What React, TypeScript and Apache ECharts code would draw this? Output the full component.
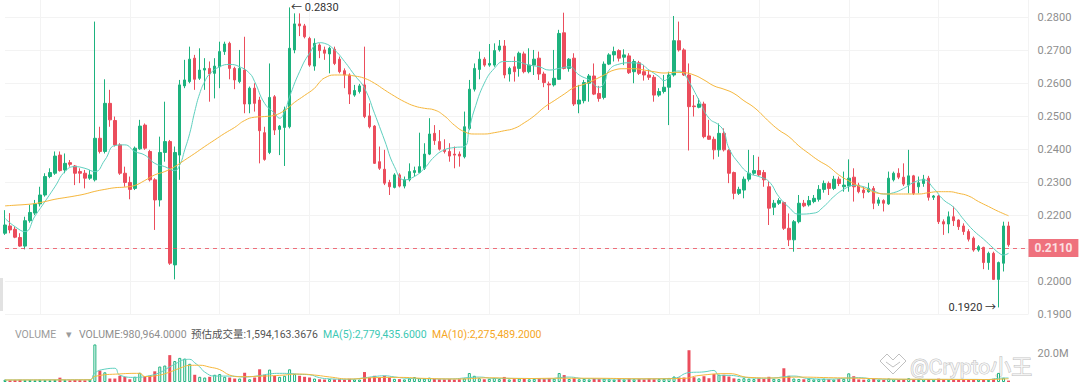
import React, { useEffect, useRef } from "react";
import * as echarts from "echarts";

const UP = "#1db27e";
const DOWN = "#eb4d5c";
const TEAL = "#5fd0bf";
const ORANGE = "#f6b73c";
const FONT = 'Roboto, "Noto Sans CJK SC", sans-serif';

const opens = [
  0.2145, 0.2167, 0.2157, 0.2132, 0.2106, 0.2183, 0.2206, 0.2234, 0.2261, 0.2317,
  0.2327, 0.2382, 0.2337, 0.2359, 0.2349, 0.2332, 0.2327, 0.2312, 0.2307, 0.2433,
  0.2393, 0.2539, 0.2487, 0.2413, 0.2327, 0.2299, 0.2281, 0.2401, 0.2473, 0.2393,
  0.2307, 0.2246, 0.2390, 0.2423, 0.2049, 0.2382, 0.2592, 0.2605, 0.2676, 0.2615,
  0.2640, 0.2645, 0.2630, 0.2650, 0.2696, 0.2721, 0.2645, 0.2605, 0.2640, 0.2537,
  0.2585, 0.2549, 0.2450, 0.2390, 0.2559, 0.2460, 0.2466, 0.2468, 0.2701, 0.2780,
  0.2774, 0.2736, 0.2652, 0.2716, 0.2701, 0.2689, 0.2703, 0.2673, 0.2638, 0.2625,
  0.2564, 0.2575, 0.2595, 0.2501, 0.2470, 0.2362, 0.2339, 0.2299, 0.2284, 0.2322,
  0.2288, 0.2307, 0.2329, 0.2329, 0.2342, 0.2385, 0.2448, 0.2423, 0.2398, 0.2393,
  0.2385, 0.2385, 0.2377, 0.2463, 0.2582, 0.2642, 0.2673, 0.2655, 0.2655, 0.2701,
  0.2713, 0.2628, 0.2650, 0.2645, 0.2689, 0.2635, 0.2655, 0.2676, 0.2628, 0.2598,
  0.2595, 0.2612, 0.2753, 0.2645, 0.2676, 0.2537, 0.2547, 0.2600, 0.2622, 0.2569,
  0.2557, 0.2658, 0.2686, 0.2699, 0.2679, 0.2683, 0.2635, 0.2662, 0.2635, 0.2625,
  0.2618, 0.2564, 0.2575, 0.2588, 0.2625, 0.2729, 0.2701, 0.2625, 0.2531, 0.2527,
  0.2537, 0.2440, 0.2430, 0.2398, 0.2448, 0.2396, 0.2329, 0.2266, 0.2276, 0.2309,
  0.2327, 0.2335, 0.2329, 0.2286, 0.2224, 0.2236, 0.2238, 0.2160, 0.2125, 0.2180,
  0.2236, 0.2231, 0.2241, 0.2248, 0.2278, 0.2296, 0.2281, 0.2309, 0.2286, 0.2288,
  0.2315, 0.2291, 0.2276, 0.2271, 0.2281, 0.2236, 0.2244, 0.2234, 0.2307, 0.2327,
  0.2315, 0.2291, 0.2319, 0.2286, 0.2296, 0.2312, 0.2254, 0.2258, 0.2180, 0.2173,
  0.2195, 0.2185, 0.2167, 0.2150, 0.2130, 0.2094, 0.2102, 0.2056, 0.2084, 0.2005,
  0.2054, 0.2167,
];

const closes = [
  0.2170, 0.2155, 0.2133, 0.2106, 0.2183, 0.2208, 0.2234, 0.2261, 0.2317, 0.2329,
  0.2379, 0.2335, 0.2357, 0.2354, 0.2327, 0.2327, 0.2312, 0.2322, 0.2433, 0.2393,
  0.2539, 0.2489, 0.2413, 0.2327, 0.2299, 0.2278, 0.2403, 0.2470, 0.2403, 0.2307,
  0.2246, 0.2390, 0.2423, 0.2054, 0.2390, 0.2595, 0.2610, 0.2673, 0.2612, 0.2640,
  0.2645, 0.2628, 0.2652, 0.2696, 0.2719, 0.2645, 0.2610, 0.2645, 0.2537, 0.2585,
  0.2539, 0.2456, 0.2369, 0.2557, 0.2458, 0.2470, 0.2519, 0.2706, 0.2780, 0.2774,
  0.2741, 0.2655, 0.2721, 0.2699, 0.2691, 0.2706, 0.2660, 0.2635, 0.2625, 0.2567,
  0.2578, 0.2592, 0.2499, 0.2468, 0.2357, 0.2342, 0.2297, 0.2286, 0.2322, 0.2288,
  0.2307, 0.2332, 0.2335, 0.2347, 0.2385, 0.2446, 0.2426, 0.2400, 0.2393, 0.2379,
  0.2382, 0.2379, 0.2468, 0.2582, 0.2645, 0.2673, 0.2655, 0.2660, 0.2699, 0.2713,
  0.2625, 0.2645, 0.2635, 0.2691, 0.2635, 0.2655, 0.2673, 0.2628, 0.2602, 0.2595,
  0.2615, 0.2751, 0.2645, 0.2673, 0.2537, 0.2549, 0.2602, 0.2622, 0.2567, 0.2554,
  0.2658, 0.2686, 0.2696, 0.2676, 0.2686, 0.2632, 0.2666, 0.2630, 0.2625, 0.2618,
  0.2564, 0.2575, 0.2588, 0.2625, 0.2729, 0.2701, 0.2625, 0.2529, 0.2529, 0.2537,
  0.2438, 0.2430, 0.2398, 0.2448, 0.2398, 0.2327, 0.2266, 0.2278, 0.2309, 0.2327,
  0.2335, 0.2322, 0.2307, 0.2221, 0.2236, 0.2244, 0.2160, 0.2125, 0.2180, 0.2236,
  0.2228, 0.2244, 0.2251, 0.2278, 0.2296, 0.2281, 0.2309, 0.2296, 0.2291, 0.2312,
  0.2286, 0.2271, 0.2268, 0.2281, 0.2236, 0.2246, 0.2236, 0.2312, 0.2327, 0.2315,
  0.2294, 0.2319, 0.2266, 0.2298, 0.2309, 0.2254, 0.2258, 0.2180, 0.2173, 0.2195,
  0.2183, 0.2165, 0.2150, 0.2127, 0.2094, 0.2104, 0.2056, 0.2084, 0.2005, 0.2056,
  0.2167, 0.2110,
];

const lows = [
  0.2140, 0.2145, 0.2130, 0.2104, 0.2096, 0.2177, 0.2200, 0.2226, 0.2256, 0.2312,
  0.2322, 0.2332, 0.2327, 0.2347, 0.2291, 0.2297, 0.2281, 0.2307, 0.2302, 0.2387,
  0.2387, 0.2468, 0.2408, 0.2322, 0.2286, 0.2248, 0.2276, 0.2398, 0.2398, 0.2302,
  0.2155, 0.2226, 0.2362, 0.2049, 0.2005, 0.2307, 0.2585, 0.2600, 0.2580, 0.2610,
  0.2580, 0.2544, 0.2554, 0.2585, 0.2686, 0.2612, 0.2582, 0.2600, 0.2509, 0.2509,
  0.2514, 0.2357, 0.2365, 0.2385, 0.2443, 0.2382, 0.2349, 0.2463, 0.2691, 0.2743,
  0.2736, 0.2650, 0.2638, 0.2676, 0.2671, 0.2630, 0.2655, 0.2630, 0.2585, 0.2537,
  0.2559, 0.2569, 0.2494, 0.2463, 0.2355, 0.2337, 0.2291, 0.2261, 0.2281, 0.2284,
  0.2281, 0.2302, 0.2317, 0.2327, 0.2337, 0.2382, 0.2413, 0.2396, 0.2387, 0.2362,
  0.2342, 0.2347, 0.2372, 0.2458, 0.2575, 0.2612, 0.2650, 0.2650, 0.2650, 0.2696,
  0.2615, 0.2605, 0.2605, 0.2620, 0.2630, 0.2630, 0.2625, 0.2610, 0.2588, 0.2519,
  0.2590, 0.2610, 0.2642, 0.2635, 0.2531, 0.2509, 0.2539, 0.2544, 0.2564, 0.2544,
  0.2551, 0.2655, 0.2666, 0.2666, 0.2655, 0.2628, 0.2600, 0.2625, 0.2608, 0.2610,
  0.2544, 0.2559, 0.2569, 0.2473, 0.2620, 0.2696, 0.2622, 0.2396, 0.2499, 0.2524,
  0.2433, 0.2428, 0.2369, 0.2377, 0.2393, 0.2297, 0.2248, 0.2261, 0.2251, 0.2302,
  0.2322, 0.2319, 0.2286, 0.2170, 0.2200, 0.2231, 0.2155, 0.2106, 0.2089, 0.2175,
  0.2224, 0.2226, 0.2236, 0.2241, 0.2268, 0.2261, 0.2276, 0.2288, 0.2271, 0.2271,
  0.2241, 0.2266, 0.2251, 0.2268, 0.2218, 0.2228, 0.2211, 0.2231, 0.2302, 0.2309,
  0.2288, 0.2266, 0.2261, 0.2266, 0.2286, 0.2244, 0.2246, 0.2173, 0.2140, 0.2145,
  0.2167, 0.2155, 0.2140, 0.2120, 0.2089, 0.2089, 0.2036, 0.2034, 0.2003, 0.1920,
  0.2029, 0.2104,
];

const highs = [
  0.2215, 0.2206, 0.2165, 0.2145, 0.2195, 0.2231, 0.2246, 0.2286, 0.2327, 0.2342,
  0.2393, 0.2393, 0.2387, 0.2367, 0.2352, 0.2342, 0.2337, 0.2337, 0.2787, 0.2468,
  0.2612, 0.2580, 0.2499, 0.2418, 0.2347, 0.2317, 0.2408, 0.2489, 0.2478, 0.2398,
  0.2312, 0.2438, 0.2544, 0.2428, 0.2408, 0.2610, 0.2671, 0.2711, 0.2686, 0.2706,
  0.2676, 0.2666, 0.2676, 0.2726, 0.2726, 0.2726, 0.2650, 0.2701, 0.2741, 0.2590,
  0.2600, 0.2559, 0.2468, 0.2660, 0.2564, 0.2473, 0.2529, 0.2830, 0.2812, 0.2812,
  0.2780, 0.2741, 0.2736, 0.2721, 0.2711, 0.2711, 0.2711, 0.2681, 0.2645, 0.2630,
  0.2595, 0.2598, 0.2711, 0.2539, 0.2473, 0.2408, 0.2398, 0.2307, 0.2327, 0.2327,
  0.2317, 0.2357, 0.2347, 0.2450, 0.2418, 0.2494, 0.2473, 0.2458, 0.2430, 0.2418,
  0.2408, 0.2393, 0.2514, 0.2610, 0.2660, 0.2696, 0.2679, 0.2719, 0.2721, 0.2731,
  0.2731, 0.2650, 0.2681, 0.2696, 0.2696, 0.2706, 0.2701, 0.2696, 0.2635, 0.2605,
  0.2701, 0.2762, 0.2814, 0.2676, 0.2691, 0.2595, 0.2610, 0.2628, 0.2660, 0.2592,
  0.2666, 0.2691, 0.2711, 0.2703, 0.2703, 0.2691, 0.2673, 0.2668, 0.2655, 0.2640,
  0.2625, 0.2585, 0.2625, 0.2635, 0.2804, 0.2787, 0.2706, 0.2660, 0.2564, 0.2554,
  0.2544, 0.2489, 0.2438, 0.2478, 0.2463, 0.2400, 0.2332, 0.2286, 0.2317, 0.2398,
  0.2382, 0.2377, 0.2337, 0.2302, 0.2246, 0.2251, 0.2241, 0.2205, 0.2185, 0.2261,
  0.2246, 0.2258, 0.2261, 0.2291, 0.2305, 0.2302, 0.2319, 0.2317, 0.2332, 0.2369,
  0.2342, 0.2298, 0.2286, 0.2298, 0.2288, 0.2254, 0.2248, 0.2332, 0.2332, 0.2342,
  0.2357, 0.2398, 0.2322, 0.2317, 0.2322, 0.2319, 0.2261, 0.2261, 0.2187, 0.2211,
  0.2226, 0.2187, 0.2175, 0.2157, 0.2135, 0.2109, 0.2104, 0.2089, 0.2089, 0.2059,
  0.2180, 0.2180,
];

// volume in millions
const volumes = [
  1.6, 1.2, 1.4, 1.5, 1.3, 1.4, 1.2, 1.5, 1.3, 1.2, 1.4, 3.0, 1.3, 1.2, 1.4, 1.3, 1.2, 1.6,
  26.0, 7.9, 6.7, 2.4, 2.4, 4.3, 3.6, 1.9, 3.6, 6.4, 4.0, 4.3, 7.4, 10.7, 11.4, 18.6, 14.5,
  16.7, 16.2, 12.6, 5.0, 3.6, 3.1, 3.6, 5.0, 5.5, 3.6, 3.1, 2.4, 2.4, 6.4, 1.9, 3.1, 8.8,
  5.0, 8.6, 4.3, 3.6, 4.3, 8.8, 5.5, 4.3, 3.6, 3.1, 2.4,
  1.9, 1.7, 2.0, 1.8, 1.9, 1.6, 2.2, 1.8, 1.7,
  6.9, 3.1, 4.3, 3.1, 4.3, 3.1,
  2.2, 2.0, 1.8, 2.4, 3.4, 2.6, 2.3, 3.0, 2.1, 1.9, 1.8, 2.0, 1.7, 1.9, 2.5,
  6.2, 4.3,
  2.6, 1.9, 2.2, 2.8, 2.0, 3.5, 1.8, 2.0, 2.4, 2.1, 1.9, 2.2, 2.5, 2.0, 2.6,
  2.3, 6.2, 4.8,
  2.1, 2.6, 1.9, 2.2, 1.8, 2.4, 2.0, 2.3, 1.9, 1.7, 2.0, 1.8, 2.2, 1.9, 2.1, 1.8, 2.3, 1.9, 2.0, 2.2,
  2.8, 3.8, 3.1, 3.1, 22.0, 3.3, 2.5, 4.0, 2.6, 5.5, 5.0, 5.0, 3.8,
  2.5, 2.2, 2.6, 2.3, 2.0, 2.4, 2.1,
  3.6, 2.2, 2.0, 9.5, 4.3,
  2.4, 2.1, 1.9, 2.2, 1.8, 2.0, 2.3, 1.9, 1.7, 2.0,
  2.2, 6.0, 4.0,
  1.8, 1.6, 1.9, 2.1, 1.7, 1.5, 2.4, 1.8, 1.6, 2.0, 2.6, 1.9, 1.5, 1.7, 2.0, 1.6, 2.3, 1.8, 1.5, 1.9, 1.7,
  1.8, 1.6, 1.9, 1.7, 1.87,
  1.5, 2.2, 6.3, 2.9, 0.980964,
];

// moving averages: [category index, value]
const maShort = [
  [0, 0.2190], [2, 0.2165], [4, 0.2150], [6, 0.2197], [8, 0.2241], [10, 0.2286], [12, 0.2332],
  [14, 0.2347], [16, 0.2342], [18, 0.2332], [20, 0.2367], [22, 0.2411], [24, 0.2413], [26, 0.2393],
  [28, 0.2382], [30, 0.2357], [32, 0.2347], [34, 0.2335], [35, 0.2352], [36, 0.2398], [37, 0.2448],
  [38, 0.2514], [39, 0.2569], [40, 0.2605], [41, 0.2628], [43, 0.2650], [45, 0.2657], [47, 0.2650],
  [49, 0.2630], [50, 0.2605], [52, 0.2539], [54, 0.2509], [55, 0.2494], [56, 0.2514], [57, 0.2559],
  [59, 0.2635], [61, 0.2691], [63, 0.2723], [64, 0.2721], [66, 0.2701], [68, 0.2666], [70, 0.2625],
  [72, 0.2585], [74, 0.2509], [76, 0.2428], [78, 0.2347], [80, 0.2307], [82, 0.2317], [84, 0.2342],
  [86, 0.2377], [88, 0.2398], [90, 0.2405], [92, 0.2408], [93, 0.2463], [94, 0.2519], [96, 0.2600],
  [98, 0.2645], [100, 0.2666], [102, 0.2666], [105, 0.2655], [107, 0.2650], [109, 0.2640],
  [111, 0.2645], [113, 0.2650], [115, 0.2625], [117, 0.2610], [119, 0.2588], [120, 0.2600],
  [121, 0.2640], [123, 0.2658], [125, 0.2662], [127, 0.2660], [129, 0.2640], [131, 0.2620],
  [132, 0.2608], [133, 0.2618], [134, 0.2635], [135, 0.2637], [136, 0.2628], [137, 0.2605],
  [139, 0.2549], [141, 0.2494], [143, 0.2473], [144, 0.2453], [145, 0.2403], [147, 0.2357],
  [149, 0.2327], [151, 0.2317], [153, 0.2302], [155, 0.2256], [157, 0.2224], [159, 0.2203],
  [162, 0.2206], [164, 0.2226], [166, 0.2256], [168, 0.2278], [170, 0.2290], [172, 0.2286],
  [174, 0.2273], [176, 0.2264], [178, 0.2268], [180, 0.2281], [182, 0.2299], [184, 0.2307],
  [186, 0.2281], [188, 0.2246], [190, 0.2224], [192, 0.2187], [194, 0.2153], [196, 0.2127],
  [198, 0.2099], [199, 0.2086], [200, 0.2079], [201, 0.2084],
];

const maLong = [
  [0, 0.2228], [2, 0.2230], [4, 0.2232], [6, 0.2235], [8, 0.2241], [10, 0.2248], [12, 0.2253],
  [14, 0.2258], [16, 0.2264], [18, 0.2272], [20, 0.2278], [22, 0.2283], [24, 0.2285], [26, 0.2290],
  [28, 0.2305], [30, 0.2322], [32, 0.2332], [34, 0.2347], [36, 0.2367], [38, 0.2387], [40, 0.2408],
  [42, 0.2428], [44, 0.2448], [46, 0.2466], [48, 0.2487], [50, 0.2497], [52, 0.2499], [54, 0.2503],
  [56, 0.2517], [57, 0.2529], [58, 0.2542], [60, 0.2563], [62, 0.2585], [63, 0.2603], [64, 0.2616],
  [66, 0.2625], [68, 0.2625], [70, 0.2622], [72, 0.2615], [74, 0.2600], [76, 0.2580], [78, 0.2561],
  [80, 0.2544], [82, 0.2531], [84, 0.2524], [86, 0.2519], [88, 0.2501], [90, 0.2473], [92, 0.2453],
  [94, 0.2446], [96, 0.2446], [98, 0.2450], [100, 0.2456], [102, 0.2463], [104, 0.2480],
  [106, 0.2501], [108, 0.2527], [110, 0.2547], [112, 0.2567], [114, 0.2587], [116, 0.2597],
  [118, 0.2610], [120, 0.2625], [122, 0.2640], [124, 0.2644], [126, 0.2644], [128, 0.2640],
  [130, 0.2635], [132, 0.2631], [134, 0.2633], [136, 0.2632], [138, 0.2625], [140, 0.2610],
  [142, 0.2592], [144, 0.2582], [146, 0.2569], [148, 0.2547], [150, 0.2527], [152, 0.2499],
  [153, 0.2484], [155, 0.2458], [157, 0.2438], [159, 0.2410], [161, 0.2387], [163, 0.2365],
  [165, 0.2347], [167, 0.2322], [169, 0.2304], [171, 0.2288], [173, 0.2276], [175, 0.2266],
  [177, 0.2264], [179, 0.2264], [181, 0.2264], [183, 0.2264], [185, 0.2268], [187, 0.2271],
  [189, 0.2271], [191, 0.2266], [193, 0.2258], [195, 0.2241], [197, 0.2226], [199, 0.2211],
  [201, 0.2198],
];

const volMa5 = [
  [0, 1.4], [9, 1.5], [17, 1.6], [18, 6.3], [20, 8.9], [22, 9.5], [23, 4.7], [26, 3.2], [29, 4.4],
  [31, 6.5], [33, 10.5], [34, 12.3], [36, 15.5], [37, 15.7], [38, 13.3], [39, 10.5], [40, 6.9],
  [42, 4.1], [45, 4.1], [48, 3.5], [51, 4.4], [53, 5.6], [55, 6.0], [57, 5.9], [59, 5.3], [61, 5.0],
  [63, 3.0], [65, 2.2], [69, 1.9], [72, 2.9], [74, 3.8], [76, 4.3], [78, 3.5], [80, 2.7], [84, 2.3],
  [89, 2.1], [93, 3.1], [95, 3.4], [98, 2.5], [103, 2.5], [109, 2.2], [111, 3.0], [113, 3.4],
  [116, 2.4], [124, 2.1], [132, 2.3], [134, 2.6], [137, 6.5], [140, 7.0], [142, 8.0], [143, 4.6],
  [145, 4.6], [148, 3.3], [151, 2.6], [154, 2.8], [156, 3.6], [158, 4.1], [161, 2.4], [165, 2.0],
  [169, 2.8], [171, 3.0], [174, 2.2], [179, 1.8], [184, 1.8], [189, 1.8], [194, 1.8], [197, 1.7],
  [199, 2.6], [201, 2.78],
];

const volMa10 = [
  [0, 1.4], [17, 1.5], [18, 3.9], [23, 5.6], [27, 6.0], [28, 3.8], [31, 4.8], [33, 6.9], [35, 9.5],
  [37, 11.5], [39, 11.6], [41, 10.3], [43, 8.6], [45, 4.8], [47, 3.7], [51, 4.0], [55, 4.6],
  [59, 5.5], [62, 4.8], [65, 3.5], [69, 2.1], [74, 3.0], [79, 3.2], [84, 2.5], [91, 2.1], [97, 2.9],
  [104, 2.4], [111, 2.6], [117, 2.6], [129, 2.2], [136, 2.5], [139, 4.5], [145, 5.8], [149, 3.2],
  [154, 2.8], [159, 3.4], [165, 3.0], [171, 2.6], [179, 2.0], [189, 1.8], [196, 1.7], [201, 2.275],
];

const CATEGORY_COUNT = 206;
const categories = Array.from({ length: CATEGORY_COUNT }, (_, i) => String(i + 1));

const priceAxis = { min: 0.19, max: 0.28525, interval: 0.01 };
const lastPrice = 0.211;
const highPoint = { index: 57, value: 0.283, label: "← 0.2830" };
const lowPoint = { index: 199, value: 0.192, label: "0.1920 →" };
const lastVolume = 0.980964;

const legendTexts = [
  { x: 15, text: "VOLUME", color: "#9b9b9b" },
  { x: 66, text: "▾", color: "#9b9b9b" },
  { x: 79, text: "VOLUME:980,964.0000", color: "#8e8e8e" },
  { x: 191, text: "预估成交量:1,594,163.3676", color: "#555555" },
  { x: 323, text: "MA(5):2,779,435.6000", color: "#3cc8b4" },
  { x: 432, text: "MA(10):2,275,489.2000", color: "#f5a623" },
];

export default function App() {
  const ref = useRef<HTMLDivElement>(null);

  useEffect(() => {
    const chart = echarts.init(ref.current!, null, { renderer: "svg" });
    const candleData = opens.map((o, i) => [o, closes[i], lows[i], highs[i]]);
    const volData = volumes.map((v, i) => {
      const up = closes[i] >= opens[i];
      return {
        value: v,
        itemStyle: up
          ? { color: "#ffffff", borderColor: UP, borderWidth: 1 }
          : { color: DOWN, borderColor: DOWN, borderWidth: 0 },
      };
    });
    const vSplit = {
      show: true,
      interval: (i: number) => i >= 7 && (i - 7) % 18 === 0,
      lineStyle: { color: "#f3f3f3", width: 1 },
    };

    chart.setOption({
      animation: false,
      backgroundColor: "#ffffff",
      textStyle: { fontFamily: FONT },
      grid: [
        { left: 5, top: 0, width: 1023.5, height: 314 },
        { left: 5, top: 343, width: 1023.5, height: 39 },
      ],
      xAxis: [
        {
          type: "category", gridIndex: 0, data: categories, boundaryGap: false,
          axisLine: { show: false }, axisTick: { show: false }, axisLabel: { show: false },
          splitLine: vSplit,
        },
        {
          type: "category", gridIndex: 1, data: categories, boundaryGap: false,
          axisLine: { show: false }, axisTick: { show: false }, axisLabel: { show: false },
          splitLine: { show: false },
        },
      ],
      yAxis: [
        {
          type: "value", gridIndex: 0, position: "right",
          min: priceAxis.min, max: priceAxis.max, interval: priceAxis.interval,
          axisLine: { show: false }, axisTick: { show: false },
          axisLabel: {
            color: "#8e8e8e", fontSize: 11, margin: 9, fontFamily: FONT,
            showMaxLabel: false,
            formatter: (v: number) => (Math.abs(v - lastPrice) < 0.0015 ? "" : v.toFixed(4)),
          },
          splitLine: { showMaxLine: false, lineStyle: { color: "#f3f3f3", width: 1 } },
        },
        {
          type: "value", gridIndex: 1, position: "right", min: 0, max: 27, interval: 20,
          axisLine: { show: false }, axisTick: { show: false },
          axisLabel: {
            color: "#8e8e8e", fontSize: 11, margin: 9, fontFamily: FONT,
            showMinLabel: false, showMaxLabel: false,
            formatter: (v: number) => v.toFixed(1) + "M",
          },
          splitLine: { show: false },
        },
      ],
      series: [
        {
          type: "candlestick", xAxisIndex: 0, yAxisIndex: 0, data: candleData,
          barWidth: 3, clip: false,
          itemStyle: { color: UP, color0: DOWN, borderColor: UP, borderColor0: DOWN, borderWidth: 1 },
          markLine: {
            silent: true, symbol: ["none", "none"], animation: false,
            lineStyle: { color: DOWN, type: [4, 4], width: 1, opacity: 0.8 },
            label: {
              show: true, position: "end", distance: 0, formatter: lastPrice.toFixed(4),
              backgroundColor: DOWN, color: "#ffffff", fontSize: 12, fontWeight: "bold",
              fontFamily: FONT, padding: [3, 6, 3, 6],
            },
            data: [{ yAxis: lastPrice }],
          },
          markPoint: {
            silent: true, symbol: "circle", symbolSize: 1,
            itemStyle: { color: "rgba(0,0,0,0)" },
            data: [
              {
                coord: [highPoint.index, highPoint.value],
                label: { show: true, position: "right", distance: 1, formatter: highPoint.label, color: "#333333", fontSize: 11, fontFamily: FONT },
              },
              {
                coord: [lowPoint.index, lowPoint.value],
                label: { show: true, position: "left", distance: 2, formatter: lowPoint.label, color: "#333333", fontSize: 11, fontFamily: FONT },
              },
            ],
          },
        },
        {
          type: "line", xAxisIndex: 0, yAxisIndex: 0, data: maShort, smooth: true,
          showSymbol: false, symbol: "none", lineStyle: { color: TEAL, width: 1 }, silent: true,
        },
        {
          type: "line", xAxisIndex: 0, yAxisIndex: 0, data: maLong, smooth: true,
          showSymbol: false, symbol: "none", lineStyle: { color: ORANGE, width: 1 }, silent: true,
        },
        {
          type: "bar", xAxisIndex: 1, yAxisIndex: 1, data: volData, barWidth: 3, clip: false,
          markLine: {
            silent: true, symbol: ["none", "none"], animation: false,
            lineStyle: { opacity: 0 },
            label: {
              show: true, position: "end", distance: 0, formatter: "981.0K",
              backgroundColor: "#f5a623", color: "#ffffff", fontSize: 11, fontFamily: FONT,
              padding: [2, 6, 2, 6],
            },
            data: [{ yAxis: lastVolume }],
          },
        },
        {
          type: "line", xAxisIndex: 1, yAxisIndex: 1, data: volMa5, smooth: true,
          showSymbol: false, symbol: "none", lineStyle: { color: TEAL, width: 1 }, silent: true,
        },
        {
          type: "line", xAxisIndex: 1, yAxisIndex: 1, data: volMa10, smooth: true,
          showSymbol: false, symbol: "none", lineStyle: { color: ORANGE, width: 1 }, silent: true,
        },
      ],
      graphic: [
        ...legendTexts.map((t) => ({
          type: "text", x: t.x, y: 334, silent: true,
          style: { text: t.text, fill: t.color, fontSize: 10.5, fontFamily: FONT, verticalAlign: "middle" },
        })),
        {
          type: "rect", silent: true, shape: { x: 0, y: 278, width: 3, height: 33 },
          style: { fill: "#e2e2e2" },
        },
        {
          type: "polyline", silent: true,
          shape: { points: [[880, 361], [887, 354], [893, 360], [899, 354], [906, 361], [893, 374], [880, 361]] },
          style: { stroke: "rgba(150,150,150,0.6)", fill: "rgba(255,255,255,0.6)", lineWidth: 1 },
        },
        {
          type: "polyline", silent: true,
          shape: { points: [[886, 362], [893, 367], [900, 362]] },
          style: { stroke: "rgba(150,150,150,0.6)", fill: "none", lineWidth: 1 },
        },
        {
          type: "text", x: 910, y: 367, silent: true,
          style: {
            text: "@Crypto小王", fontSize: 21, fontFamily: FONT, verticalAlign: "middle",
            fill: "rgba(255,255,255,0.65)", stroke: "rgba(140,140,140,0.55)", lineWidth: 1,
          },
        },
      ],
    });
    return () => chart.dispose();
  }, []);

  return <div ref={ref} style={{ position: "fixed", left: 0, top: 0, width: 1080, height: 387 }} />;
}
